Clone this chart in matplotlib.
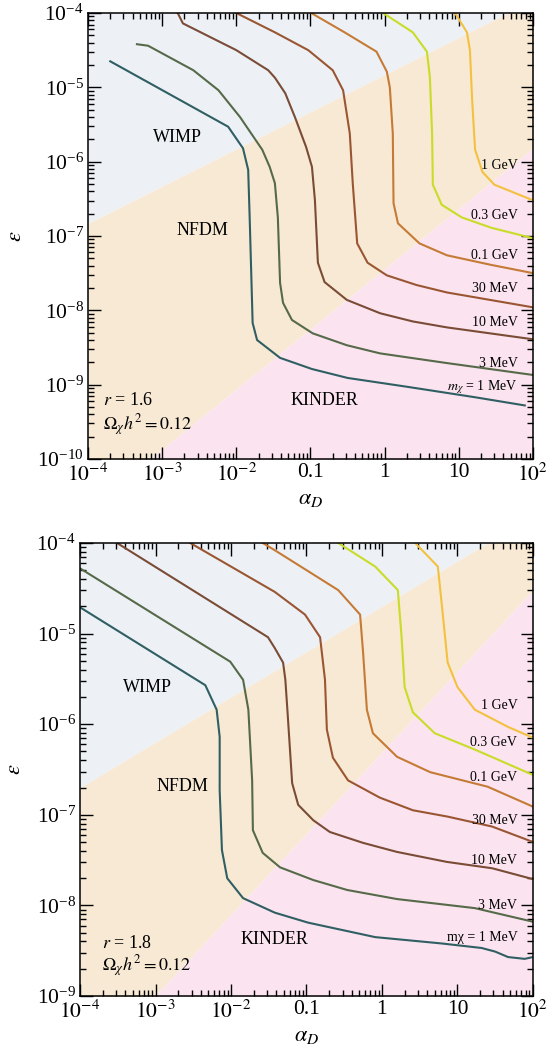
import matplotlib
matplotlib.use('Agg')
import matplotlib.pyplot as plt
import numpy as np
from matplotlib.ticker import LogLocator, NullFormatter

plt.rcParams['font.family'] = ['Liberation Serif', 'DejaVu Serif']
plt.rcParams['mathtext.fontset'] = 'stix'

masses_top = [r'$m_\chi$ = 1 MeV', '3 MeV', '10 MeV', '30 MeV', '0.1 GeV', '0.3 GeV', '1 GeV']
masses_bot = ['m\u03c7 = 1 MeV', '3 MeV', '10 MeV', '30 MeV', '0.1 GeV', '0.3 GeV', '1 GeV']
colors = ['#2f5f63', '#566a4a', '#7a4c36', '#9a5632', '#c57a36', '#c8dc28', '#f3c13f']
region_colors = {'WIMP': '#edf1f6', 'NFDM': '#f8e9d4', 'KINDER': '#fbe4f0'}

xtick_vals = [1e-4, 1e-3, 1e-2, 0.1, 1, 10, 100]
xtick_labels = [r'$10^{-4}$', r'$10^{-3}$', r'$10^{-2}$', '0.1', '1', '10', r'$10^{2}$']

# ---- top panel, r = 1.6  (log10 alpha_D, log10 epsilon) ----
top_la = [
    [-3.70, -2.11, -1.91, -1.84, -1.82, -1.78, -1.72, -1.41, -0.98, -0.50, 0.31, 1.22, 1.89],
    [-3.34, -3.19, -2.58, -2.24, -1.95, -1.65, -1.55, -1.48, -1.44, -1.41, -1.37, -1.25, -0.97, -0.51, -0.06, 0.84, 2.0],
    [-2.79, -2.72, -2.0, -1.57, -1.48, -1.34, -1.21, -1.06, -0.98, -0.94, -0.90, -0.81, -0.51, -0.06, 0.38, 0.84, 2.0],
    [-2.0, -1.48, -1.03, -0.70, -0.56, -0.47, -0.43, -0.37, -0.23, 0.03, 0.43, 0.84, 2.0],
    [-0.99, -0.54, -0.11, 0.03, 0.07, 0.11, 0.12, 0.18, 0.47, 0.84, 1.44, 2.0],
    [-0.02, 0.38, 0.57, 0.61, 0.64, 0.65, 0.77, 1.04, 1.44, 2.0],
    [0.95, 1.11, 1.15, 1.18, 1.22, 1.32, 1.48, 2.0],
]
top_le = [
    [-4.65, -5.53, -5.82, -6.11, -6.75, -8.17, -8.40, -8.64, -8.79, -8.91, -9.03, -9.17, -9.28],
    [-4.42, -4.44, -4.77, -5.04, -5.40, -5.84, -6.07, -6.29, -6.75, -7.63, -7.90, -8.13, -8.31, -8.47, -8.58, -8.71, -8.87],
    [-4.0, -4.14, -4.50, -4.77, -4.87, -5.08, -5.40, -5.80, -6.07, -6.52, -7.36, -7.62, -7.86, -8.04, -8.15, -8.23, -8.39],
    [-4.0, -4.26, -4.50, -4.77, -5.04, -5.62, -6.29, -7.10, -7.36, -7.53, -7.66, -7.76, -7.96],
    [-4.0, -4.26, -4.52, -4.79, -5.0, -5.62, -6.56, -6.83, -7.10, -7.26, -7.39, -7.50],
    [-4.0, -4.26, -4.52, -4.86, -5.62, -6.31, -6.58, -6.75, -6.89, -7.03],
    [-4.0, -4.26, -4.50, -5.17, -5.84, -6.14, -6.31, -6.52],
]
top_label_le = [-9.03, -8.71, -8.17, -7.71, -7.26, -6.72, -6.05]
top_wimp_edge = [[-4, 2], [-6.83, -3.83]]
top_kinder_edge = [[-4, 2], [-10.68, -5.82]]

# ---- bottom panel, r = 1.8 ----
bot_la = [
    [-4.0, -2.34, -2.19, -2.15, -2.15, -2.12, -2.05, -1.84, -1.42, -0.98, -0.09, 0.79, 1.32, 1.50, 1.67, 1.89, 2.0],
    [-4.0, -2.01, -1.84, -1.77, -1.72, -1.71, -1.58, -1.35, -0.91, -0.46, 0.20, 1.23, 2.0],
    [-3.51, -1.51, -1.42, -1.31, -1.28, -1.25, -1.19, -1.11, -0.91, -0.69, -0.25, 0.20, 0.86, 1.46, 2.0],
    [-2.54, -1.42, -1.02, -0.82, -0.755, -0.73, -0.65, -0.45, -0.03, 0.41, 0.87, 1.46, 2.0],
    [-1.58, -1.42, -0.58, -0.29, -0.25, -0.20, -0.12, 0.20, 0.64, 1.40, 2.0],
    [-0.58, -0.09, 0.21, 0.26, 0.30, 0.41, 0.70, 1.23, 2.0],
    [0.44, 0.74, 0.79, 0.87, 1.0, 1.23, 1.67, 2.0],
]
bot_le = [
    [-4.71, -5.57, -5.84, -6.14, -6.73, -7.39, -7.70, -7.92, -8.08, -8.19, -8.35, -8.42, -8.47, -8.51, -8.57, -8.59, -8.57],
    [-4.28, -5.31, -5.51, -5.84, -6.62, -7.17, -7.42, -7.58, -7.72, -7.83, -7.93, -8.03, -8.18],
    [-4.0, -5.04, -5.16, -5.32, -5.51, -5.88, -6.65, -6.89, -7.06, -7.19, -7.31, -7.41, -7.52, -7.59, -7.71],
    [-4.0, -4.54, -4.79, -5.04, -5.51, -6.06, -6.37, -6.62, -6.81, -6.95, -7.02, -7.13, -7.30],
    [-4.0, -4.08, -4.52, -4.79, -5.21, -5.84, -6.10, -6.36, -6.53, -6.69, -6.91],
    [-4.0, -4.26, -4.52, -5.04, -5.59, -5.87, -6.10, -6.28, -6.56],
    [-4.0, -4.26, -4.66, -5.32, -5.59, -5.84, -6.03, -6.15],
]
bot_label_le = [-8.35, -8.0, -7.50, -7.06, -6.59, -6.20, -5.79]
bot_wimp_edge = [[-4, 2], [-6.70, -3.70]]
bot_kinder_edge = [[-4, 2], [-9.89, -4.52]]


def draw_panel(ax, la, le, labels, label_le, wimp_edge, kinder_edge, ymin,
               r_text, region_pos):
    ymax = 1e-4
    # background regions
    xe = 10.0 ** np.array(wimp_edge[0])
    ax.fill_between(xe, 10.0 ** np.array(wimp_edge[1]), 1e-2,
                    color=region_colors['WIMP'], lw=0, zorder=0)
    ax.fill_between(xe, 10.0 ** np.array(kinder_edge[1]), 10.0 ** np.array(wimp_edge[1]),
                    color=region_colors['NFDM'], lw=0, zorder=0)
    ax.fill_between(10.0 ** np.array(kinder_edge[0]), 1e-13, 10.0 ** np.array(kinder_edge[1]),
                    color=region_colors['KINDER'], lw=0, zorder=0)

    for xs, ys, c in zip(la, le, colors):
        ax.plot(10.0 ** np.array(xs), 10.0 ** np.array(ys), color=c, lw=1.5, zorder=2)

    for lab, yl in zip(labels, label_le):
        ax.text(62, 10.0 ** yl, lab, ha='right', va='center', fontsize=10, zorder=3)

    for name, (px, py) in region_pos.items():
        ax.text(10.0 ** px, 10.0 ** py, name, ha='center', va='center', fontsize=13, zorder=3)

    ax.text(10.0 ** r_text[0], 10.0 ** r_text[1], r_text[2], ha='left', va='center', fontsize=13)
    ax.text(10.0 ** r_text[0], 10.0 ** r_text[3], r'$\Omega_\chi h^2 = 0.12$', ha='left',
            va='center', fontsize=13)

    ax.set_xscale('log')
    ax.set_yscale('log')
    ax.set_xlim(1e-4, 1e2)
    ax.set_ylim(ymin, ymax)
    ax.set_xticks(xtick_vals)
    ax.set_xticklabels(xtick_labels, fontsize=15.5)
    ax.yaxis.set_major_locator(LogLocator(base=10, numticks=20))
    ax.xaxis.set_minor_locator(LogLocator(base=10, subs=np.arange(2, 10), numticks=20))
    ax.yaxis.set_minor_locator(LogLocator(base=10, subs=np.arange(2, 10), numticks=20))
    ax.xaxis.set_minor_formatter(NullFormatter())
    ax.yaxis.set_minor_formatter(NullFormatter())
    for t in ax.get_yticklabels():
        t.set_fontsize(15.5)
    ax.tick_params(which='both', direction='in', top=True, right=True, width=1.0)
    ax.tick_params(which='major', length=9, pad=3)
    ax.tick_params(which='minor', length=4.5)
    for sp in ax.spines.values():
        sp.set_linewidth(1.1)
    ax.set_ylabel(r'$\epsilon$', fontsize=16, labelpad=8)
    ax.set_xlabel(r'$\alpha_D$', fontsize=16, labelpad=3)


fig = plt.figure(figsize=(5.5, 10.57), dpi=100)
ax1 = fig.add_axes([0.160, 0.5658, 0.809, 0.4219])
ax2 = fig.add_axes([0.1455, 0.0577, 0.8235, 0.4286])

draw_panel(ax1, top_la, top_le, masses_top, top_label_le, top_wimp_edge, top_kinder_edge,
           1e-10, (-3.80, -9.22, r'$r$ = 1.6', -9.54),
           {'WIMP': (-2.80, -5.67), 'NFDM': (-2.45, -6.92), 'KINDER': (-0.81, -9.21)})
draw_panel(ax2, bot_la, bot_le, masses_bot, bot_label_le, bot_wimp_edge, bot_kinder_edge,
           1e-9, (-3.71, -8.42, r'$r$ = 1.8', -8.67),
           {'WIMP': (-3.10, -5.59), 'NFDM': (-2.64, -6.69), 'KINDER': (-1.42, -8.38)})

plt.savefig('out.png', dpi=100)
plt.close(fig)
